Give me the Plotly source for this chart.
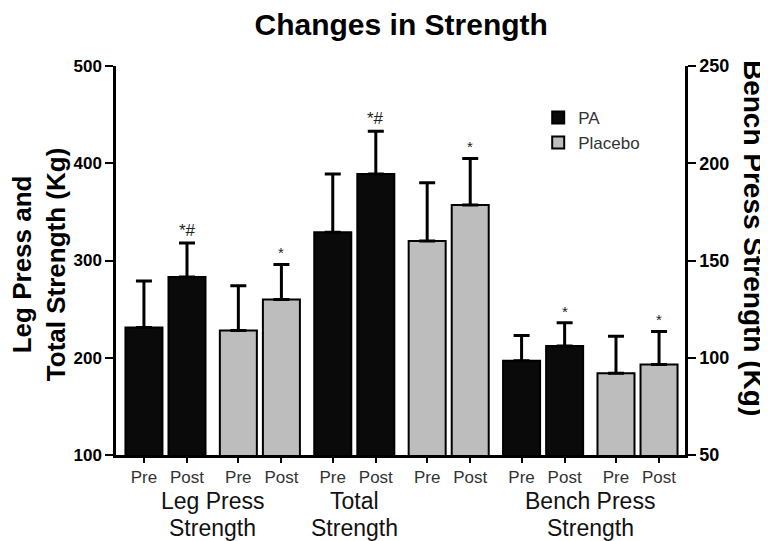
import plotly.graph_objects as go

# ---- data ----
measures = ["Leg Press", "Total", "Bench Press"]
group_line1 = ["Leg Press", "Total", "Bench Press"]
group_line2 = ["Strength", "Strength", "Strength"]
times = ["Pre", "Post"]

pa_mean = {"Leg Press": [231, 283], "Total": [329, 389], "Bench Press": [98.5, 106]}
pa_sd = {"Leg Press": [48, 35], "Total": [60, 44], "Bench Press": [13, 12]}
pl_mean = {"Leg Press": [228, 260], "Total": [320, 357], "Bench Press": [92, 96.5]}
pl_sd = {"Leg Press": [46, 36], "Total": [60, 48], "Bench Press": [19, 17]}

pa_marks = {"Leg Press": ["", "*#"], "Total": ["", "*#"], "Bench Press": ["", "*"]}
pl_marks = {"Leg Press": ["", "*"], "Total": ["", "*"], "Bench Press": ["", "*"]}

left_ticks = [100, 200, 300, 400, 500]
right_ticks = [50, 100, 150, 200, 250]

# ---- layout helpers ----
FONT = "Arial, Liberation Sans, sans-serif"
offset = 0.228
bar_w = 0.392
PA_COLOR = "#0a0a0a"
PL_COLOR = "#bdbdbd"

fig = go.Figure()
tickvals, ticktext = [], []
annotations = []
shown = set()

pair = 0
for m in measures:
    axis = "y2" if m == "Bench Press" else "y"
    for name, mean, sd, marks, color in [
        ("PA", pa_mean, pa_sd, pa_marks, PA_COLOR),
        ("Placebo", pl_mean, pl_sd, pl_marks, PL_COLOR),
    ]:
        xs = [pair - offset, pair + offset]
        fig.add_trace(go.Bar(
            x=xs, y=mean[m], width=bar_w, name=name, yaxis=axis,
            marker=dict(color=color, line=dict(color="black", width=2)),
            error_y=dict(type="data", symmetric=False, array=sd[m],
                         arrayminus=[0, 0], color="black", thickness=3, width=8),
            showlegend=name not in shown, legendgroup=name,
        ))
        shown.add(name)
        for xi, t in zip(xs, times):
            tickvals.append(xi)
            ticktext.append(t)
        for xi, v, s, mk in zip(xs, mean[m], sd[m], marks[m]):
            if mk:
                annotations.append(dict(
                    x=xi, y=v + s, xref="x", yref=axis, text=mk,
                    showarrow=False, yanchor="bottom", yshift=1,
                    font=dict(family=FONT, size=17 if "#" in mk else 15, color="#222")))
        pair += 1

label_x = [0.5, 2.0, 4.5]
for lx, l1, l2 in zip(label_x, group_line1, group_line2):
    annotations.append(dict(
        x=lx, y=0, xref="x", yref="paper", text=l1, showarrow=False,
        yanchor="middle", yshift=-46, font=dict(family=FONT, size=23, color="#111")))
    annotations.append(dict(
        x=lx, y=0, xref="x", yref="paper", text=l2, showarrow=False,
        yanchor="middle", yshift=-73, font=dict(family=FONT, size=23, color="#111")))

annotations.append(dict(
    x=-0.134, y=0.49, xref="paper", yref="paper", textangle=-90,
    xanchor="center", yanchor="middle",
    text="<b>Leg Press and<br>Total Strength (Kg)</b>", showarrow=False,
    font=dict(family=FONT, size=26, color="black")))
annotations.append(dict(
    x=1.1195, y=0.558, xref="paper", yref="paper", textangle=90,
    xanchor="center", yanchor="middle",
    text="<b>Bench Press Strength (Kg)</b>", showarrow=False,
    font=dict(family=FONT, size=28, color="black")))

fig.update_layout(
    width=768, height=541,
    margin=dict(l=108, r=91, t=58, b=94),
    paper_bgcolor="white", plot_bgcolor="white",
    barmode="overlay",
    title=dict(text="<b>Changes in Strength</b>", x=0.512, xanchor="center",
               y=0.969, yanchor="middle",
               font=dict(family=FONT, size=30, color="black")),
    xaxis=dict(range=[-0.524, 5.503], tickvals=tickvals, ticktext=ticktext,
               showline=True, linecolor="black", linewidth=2.5,
               ticks="outside", ticklen=5, tickwidth=2, tickcolor="black",
               showgrid=False, zeroline=False,
               tickfont=dict(family=FONT, size=17, color="#333")),
    yaxis=dict(range=[100, 500], tickvals=left_ticks,
               showline=True, linecolor="black", linewidth=2.5,
               ticks="outside", ticklen=8, tickwidth=2, tickcolor="black",
               showgrid=False, zeroline=False,
               tickfont=dict(family=FONT, size=17, color="black", weight="bold")),
    yaxis2=dict(range=[50, 250], tickvals=right_ticks, overlaying="y", side="right",
                showline=True, linecolor="black", linewidth=2.5,
                ticks="outside", ticklen=8, tickwidth=2, tickcolor="black",
                showgrid=False, zeroline=False,
                tickfont=dict(family=FONT, size=18, color="black", weight="bold")),
    legend=dict(x=0.742, y=0.913, xanchor="left", yanchor="top",
                bgcolor="rgba(0,0,0,0)", font=dict(family=FONT, size=17, color="#333"),
                traceorder="normal"),
    annotations=annotations,
)

fig.write_html("out.html")
